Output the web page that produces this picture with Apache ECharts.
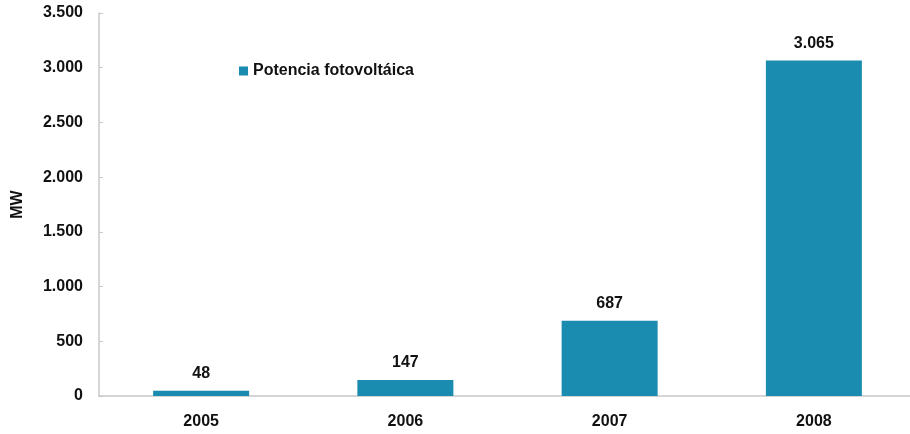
<!DOCTYPE html>
<html>
<head>
    <meta charset="UTF-8" />
    <title>Potencia fotovoltaica</title>
    <script src="https://cdn.jsdelivr.net/npm/echarts@6/dist/echarts.min.js"></script>
    <style>
        html, body { margin: 0; padding: 0; background: #fff; }
        #main { width: 910px; height: 434px; }
    </style>
</head>
<body>
<div id="main"></div>
<script type="text/javascript">
    // datos del grafico
    var years = ['2005', '2006', '2007', '2008'];
    var potencia = [48, 147, 687, 3065];
    var serieNombre = 'Potencia fotovoltáica';

    // 3500 -> "3.500"
    function puntos(v) {
        return String(v).replace(/\B(?=(\d{3})+(?!\d))/g, '.');
    }

    var fuente = 'Liberation Sans, Arial, sans-serif';
    var myChart = echarts.init(document.getElementById('main'));

    var option = {
        animation: false,
        grid: {
            left: 99,
            top: 13,
            width: 817,
            bottom: 38,
            outerBoundsMode: 'none'
        },
        legend: {
            data: [serieNombre],
            left: 234,
            top: 58,
            icon: 'rect',
            itemWidth: 9,
            itemHeight: 9,
            textStyle: { fontFamily: fuente, fontSize: 16, fontWeight: 'bold', color: '#111' }
        },
        xAxis: {
            type: 'category',
            data: years,
            axisLine: { lineStyle: { color: '#c8c8c8', width: 1.5 } },
            axisTick: { show: false },
            axisLabel: { margin: 18, fontFamily: fuente, fontSize: 16, fontWeight: 'bold', color: '#111' }
        },
        yAxis: {
            type: 'value',
            min: 0,
            max: 3500,
            interval: 500,
            name: 'MW',
            nameLocation: 'middle',
            nameGap: 73,
            nameRotate: 90,
            nameTextStyle: { fontFamily: fuente, fontSize: 16, fontWeight: 'bold', color: '#111' },
            axisLine: { show: true, lineStyle: { color: '#c8c8c8', width: 1.5 } },
            axisTick: { show: true, inside: true, length: 4, lineStyle: { color: '#c8c8c8' } },
            splitLine: { show: false },
            axisLabel: {
                margin: 16,
                fontFamily: fuente, fontSize: 16, fontWeight: 'bold', color: '#111',
                formatter: puntos
            }
        },
        series: [{
            name: serieNombre,
            type: 'bar',
            data: potencia,
            barWidth: 96,
            itemStyle: { color: '#1a8cb0' },
            label: {
                show: true,
                position: 'top',
                distance: 9,
                fontFamily: fuente, fontSize: 16, fontWeight: 'bold', color: '#111',
                formatter: function (p) { return puntos(p.value); }
            }
        }]
    };

    myChart.setOption(option);
</script>
</body>
</html>
